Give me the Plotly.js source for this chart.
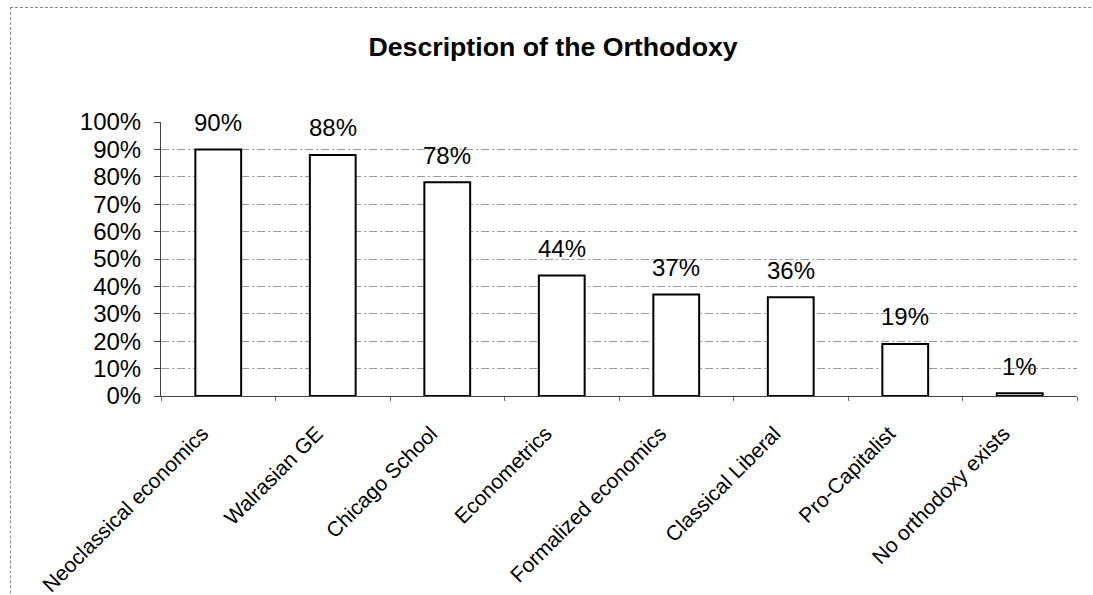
<!DOCTYPE html>
<html>
<head>
<meta charset="utf-8">
<script src="https://cdn.plot.ly/plotly-3.0.1.min.js"></script>
<style>
  html, body { margin: 0; padding: 0; background: #fff; }
  #wrap { position: relative; width: 1093px; height: 595px; overflow: hidden; }
  #chart { width: 1093px; height: 595px; }
  #frame {
    position: absolute; left: 10px; top: 7px; width: 1200px; height: 700px;
    border-top: 1px dashed #8a8a8a; border-left: 1px dashed #8a8a8a;
    pointer-events: none;
  }
</style>
</head>
<body>
<div id="wrap">
  <div id="chart"></div>
  <div id="frame"></div>
</div>
<script>
// Share of respondents choosing each description of the orthodoxy
const categories = [
  "Neoclassical economics",
  "Walrasian GE",
  "Chicago School",
  "Econometrics",
  "Formalized economics",
  "Classical Liberal",
  "Pro-Capitalist",
  "No orthodoxy exists"
];
const shares = [0.90, 0.88, 0.78, 0.44, 0.37, 0.36, 0.19, 0.01];
const yTickVals = [0, 0.1, 0.2, 0.3, 0.4, 0.5, 0.6, 0.7, 0.8, 0.9, 1.0];
const yTickText = ["0%", "10%", "20%", "30%", "40%", "50%", "60%", "70%", "80%", "90%", "100%"];

const FONT = "Liberation Sans, Arial, Helvetica, sans-serif";

const barTrace = {
  type: "bar",
  x: categories,
  y: shares,
  marker: { color: "#ffffff", line: { color: "#000000", width: 2 } },
  hoverinfo: "skip",
  showlegend: false
};

// value labels above each bar
const valueLabels = categories.map((c, i) => ({
  x: c,
  y: shares[i],
  xref: "x",
  yref: "y",
  text: Math.round(shares[i] * 100) + "%",
  showarrow: false,
  yanchor: "middle",
  yshift: 27,
  font: { family: FONT, size: 24, color: "#000" }
}));

const layout = {
  width: 1093,
  height: 595,
  margin: { l: 161, r: 16, t: 122, b: 199, pad: 0 },
  paper_bgcolor: "#ffffff",
  plot_bgcolor: "#ffffff",
  bargap: 0.6,
  font: { family: FONT, color: "#000" },
  title: {
    text: "Description of the Orthodoxy",
    font: { family: FONT, size: 26.7, color: "#000", weight: "bold" },
    xref: "container",
    x: 0.506,
    xanchor: "center",
    yref: "container",
    y: 0.921,
    yanchor: "middle"
  },
  xaxis: {
    type: "category",
    tickangle: -45,
    tickfont: { family: FONT, size: 21, color: "#000" },
    ticklabelstandoff: 16,
    ticklabelshift: -16,
    showline: true,
    linecolor: "#444",
    linewidth: 1,
    ticks: "outside",
    tickson: "boundaries",
    ticklen: 4,
    tickcolor: "#666",
    showgrid: false,
    zeroline: false,
    fixedrange: true
  },
  yaxis: {
    range: [0, 1],
    tickvals: yTickVals,
    ticktext: yTickText,
    tickfont: { family: FONT, size: 24, color: "#000" },
    showline: true,
    linecolor: "#444",
    linewidth: 1,
    ticks: "outside",
    ticklen: 6,
    tickcolor: "#444",
    ticklabelstandoff: 8,
    showgrid: true,
    gridcolor: "#9a9a9a",
    gridwidth: 1,
    griddash: "8px,3px,2px,3px",
    zeroline: false,
    fixedrange: true
  },
  annotations: valueLabels
};

Plotly.newPlot("chart", [barTrace], layout, { displayModeBar: false, staticPlot: true });
</script>
</body>
</html>
